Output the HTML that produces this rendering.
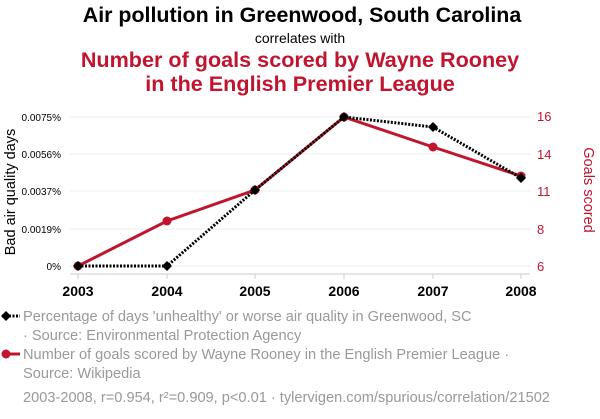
<!DOCTYPE html>
<html><head><style>
body{margin:0;background:#fff;width:600px;height:414px;overflow:hidden;font-family:"Liberation Sans",sans-serif}
</style></head><body>
<svg width="600" height="414" xmlns="http://www.w3.org/2000/svg" font-family="Liberation Sans, sans-serif">
<text x="302" y="22" text-anchor="middle" font-size="21.4" font-weight="bold" fill="#000">Air pollution in Greenwood, South Carolina</text>
<text x="300" y="43" text-anchor="middle" font-size="14" fill="#000">correlates with</text>
<text x="300" y="67" text-anchor="middle" font-size="21.6" font-weight="bold" fill="#c0142f">Number of goals scored by Wayne Rooney</text>
<text x="300" y="91" text-anchor="middle" font-size="21.6" font-weight="bold" fill="#c0142f">in the English Premier League</text>
<g stroke="#eee" stroke-width="1">
<line x1="70" x2="530" y1="117" y2="117"/><line x1="70" x2="530" y1="154" y2="154"/><line x1="70" x2="530" y1="191" y2="191"/><line x1="70" x2="530" y1="229" y2="229"/><line x1="70" x2="530" y1="266" y2="266"/>
</g>
<line x1="70" x2="530" y1="274" y2="274" stroke="#ccc"/>
<g stroke="#ccc"><line x1="78" x2="78" y1="274" y2="279"/><line x1="167" x2="167" y1="274" y2="279"/><line x1="255" x2="255" y1="274" y2="279"/><line x1="344" x2="344" y1="274" y2="279"/><line x1="433" x2="433" y1="274" y2="279"/><line x1="521" x2="521" y1="274" y2="279"/></g>
<g font-size="10" text-anchor="end" fill="#000">
<text x="61" y="121">0.0075%</text><text x="61" y="158">0.0056%</text><text x="61" y="195">0.0037%</text><text x="61" y="233">0.0019%</text><text x="61" y="270">0%</text>
</g>
<g font-size="13" fill="#c0142f">
<text x="537" y="121">16</text><text x="537" y="159">14</text><text x="537" y="196">11</text><text x="537" y="234">8</text><text x="537" y="271">6</text>
</g>
<g font-size="14" font-weight="bold" text-anchor="middle">
<text x="78" y="296">2003</text><text x="167" y="296">2004</text><text x="255" y="296">2005</text><text x="344" y="296">2006</text><text x="433" y="296">2007</text><text x="521" y="296">2008</text>
</g>
<text transform="translate(15,192) rotate(-90)" text-anchor="middle" font-size="14.5" fill="#000">Bad air quality days</text>
<text transform="translate(584,190) rotate(90)" text-anchor="middle" font-size="14.5" fill="#c0142f">Goals scored</text>
<polyline points="78,266 167,221 255,190 344,117 433,147 521,176" fill="none" stroke="#c0142f" stroke-width="3"/>
<g fill="#c0142f"><circle cx="167" cy="221" r="4.5"/><circle cx="255" cy="190" r="4.5"/><circle cx="344" cy="117" r="4.5"/><circle cx="433" cy="147" r="4.5"/><circle cx="521" cy="176" r="4.5"/><circle cx="78" cy="266" r="4.5"/></g>
<polyline points="78,266 167,266 255,190 344,117 433,127 521,178" fill="none" stroke="#000" stroke-width="3" stroke-dasharray="2,1.5"/>
<g fill="#000">
<path d="M78 261l5 5-5 5-5-5z"/><path d="M167 261l5 5-5 5-5-5z"/><path d="M255 185l5 5-5 5-5-5z"/><path d="M344 112l5 5-5 5-5-5z"/><path d="M433 122l5 5-5 5-5-5z"/><path d="M521 173l5 5-5 5-5-5z"/>
</g>
<line x1="2" x2="20" y1="316" y2="316" stroke="#000" stroke-width="3" stroke-dasharray="2,1.5"/>
<path d="M6 311l5 5-5 5-5-5z" fill="#000"/>
<line x1="2" x2="20" y1="354" y2="354" stroke="#c0142f" stroke-width="3"/>
<circle cx="6" cy="354" r="4.5" fill="#c0142f"/>
<g font-size="14.6" fill="#999">
<text x="23" y="321">Percentage of days 'unhealthy' or worse air quality in Greenwood, SC</text>
<text x="23" y="340">· Source: Environmental Protection Agency</text>
<text x="23" y="359">Number of goals scored by Wayne Rooney in the English Premier League ·</text>
<text x="23" y="378">Source: Wikipedia</text>
<text x="23" y="402">2003-2008, r=0.954, r²=0.909, p&lt;0.01 · tylervigen.com/spurious/correlation/21502</text>
</g>
</svg>
</body></html>
